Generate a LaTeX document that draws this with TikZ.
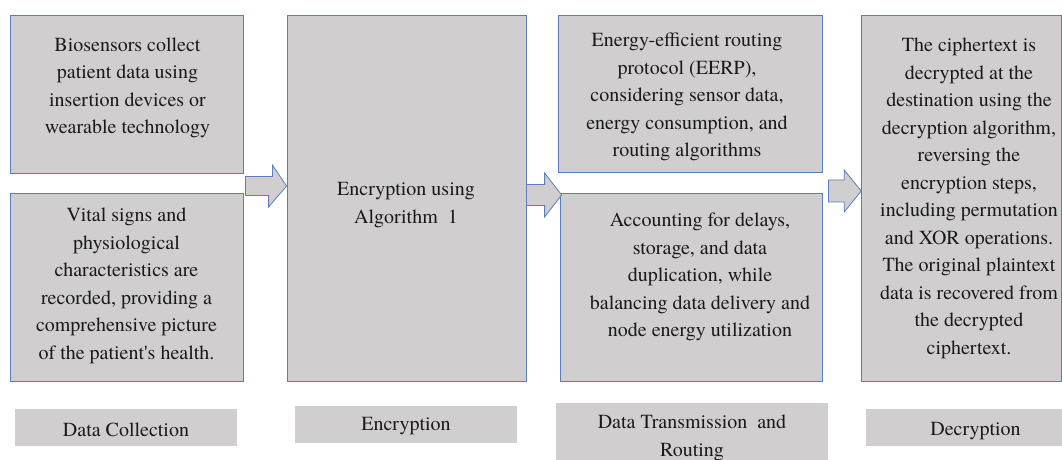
\documentclass[tikz,border=0pt]{standalone}
\usepackage{fontspec}
\newfontfamily\tms{TeX Gyre Termes}
\definecolor{boxfill}{HTML}{D0CECE}
\definecolor{boxline}{HTML}{5B7DBE}
\definecolor{txt}{HTML}{1A1A1A}
\begin{document}
\begin{tikzpicture}[x=1pt,y=1pt,
  stagebox/.style={draw=boxline,line width=0.8pt,fill=boxfill,minimum width=#1,inner sep=0pt},
  tagbox/.style={fill=boxfill,inner sep=0pt},
  body/.style={text=txt,align=center,font=\tms\fontsize{20}{27.5}\selectfont,inner sep=0pt},
  blockarrow/.style={draw=boxline,line width=0.8pt,fill=boxfill,line join=miter}]
\useasboundingbox (0,0) rectangle (1062,460);
\begin{scope}
\clip (0,0) rectangle (1062,460);
% stage boxes
\node[stagebox=233pt,minimum height=158pt] (b1) at (126.5,366) {};
\node[stagebox=233pt,minimum height=188pt] (b2) at (126.5,173) {};
\node[stagebox=239pt,minimum height=366pt] (enc) at (406.5,262) {};
\node[stagebox=264pt,minimum height=157pt] (b3) at (690,366.5) {};
\node[stagebox=262pt,minimum height=188pt] (b4) at (691,173) {};
\node[stagebox=200pt,minimum height=366pt] (dec) at (961.6,262) {};
% bottom tags
\node[tagbox,minimum width=222pt,minimum height=37pt] (t1) at (126,32.5) {};
\node[tagbox,minimum width=222pt,minimum height=37pt] (t2) at (406,35.5) {};
\node[tagbox,minimum width=272pt,minimum height=62pt] (t3) at (692,26) {};
\node[tagbox,minimum width=200pt,minimum height=37pt] (t4) at (966,32.5) {};
\end{scope}
% texts
\node[body] (x1) at (127.5,372) {Biosensors collect\\patient data using\\insertion devices or\\wearable technology};
\node[body] (x2) at (126.5,174) {Vital signs and\\physiological\\characteristics are\\recorded, providing a\\comprehensive picture\\of the patient\textquotesingle s health.};
\node[body] (x3) at (406,255) {Encryption using\\Algorithm\ \ 1};
\node[body] (x4) at (687,363) {Energy-efficient routing\\protocol (EERP),\\considering sensor data,\\energy consumption, and\\routing algorithms};
\node[body] (x5) at (700,183) {Accounting for delays,\\storage, and data\\duplication, while\\balancing data delivery and\\node energy utilization};
\node[body] (x6) at (969,261.5) {The ciphertext is\\decrypted at the\\destination using the\\decryption algorithm,\\reversing the\\encryption steps,\\including permutation\\and XOR operations.\\The original plaintext\\data is recovered from\\the decrypted\\ciphertext.};
\node[body] (l1) at ([yshift=-2pt]t1.center) {Data Collection};
\node[body] (l2) at ([yshift=-2pt]t2.center) {Encryption};
\node[body] (l3) at (692,22) {Data Transmission\ \ and\\Routing};
\node[body] (l4) at (975.5,29) {Decryption};
% block arrows
\coordinate (a1s) at ([xshift=2pt]b1.east |- 0,274);
\coordinate (a1e) at (enc.west |- 0,274);
\draw[blockarrow] ([yshift=9.5pt]a1s) -- ++(27,0) -- ++(0,11.5) -- (a1e) -- ([xshift=-18pt,yshift=-21pt]a1e) -- ++(0,11.5) -- ([yshift=-9.5pt]a1s) -- cycle;
\coordinate (a2s) at (enc.east |- 0,265);
\coordinate (a2e) at ([xshift=2pt]b4.west |- 0,265);
\draw[blockarrow] ([yshift=10.5pt]a2s) -- ([xshift=-17pt,yshift=10.5pt]a2e) -- ([xshift=-17pt,yshift=22pt]a2e) -- (a2e) -- ([xshift=-17pt,yshift=-22pt]a2e) -- ([xshift=-17pt,yshift=-10.5pt]a2e) -- ([yshift=-10.5pt]a2s) -- cycle;
\coordinate (a3s) at ([xshift=6pt]b4.east |- 0,269);
\coordinate (a3e) at (dec.west |- 0,269);
\draw[blockarrow] ([yshift=11pt]a3s) -- ([xshift=-17pt,yshift=11pt]a3e) -- ([xshift=-17pt,yshift=21pt]a3e) -- (a3e) -- ([xshift=-17pt,yshift=-21pt]a3e) -- ([xshift=-17pt,yshift=-11pt]a3e) -- ([yshift=-11pt]a3s) -- cycle;
\end{tikzpicture}
\end{document}
